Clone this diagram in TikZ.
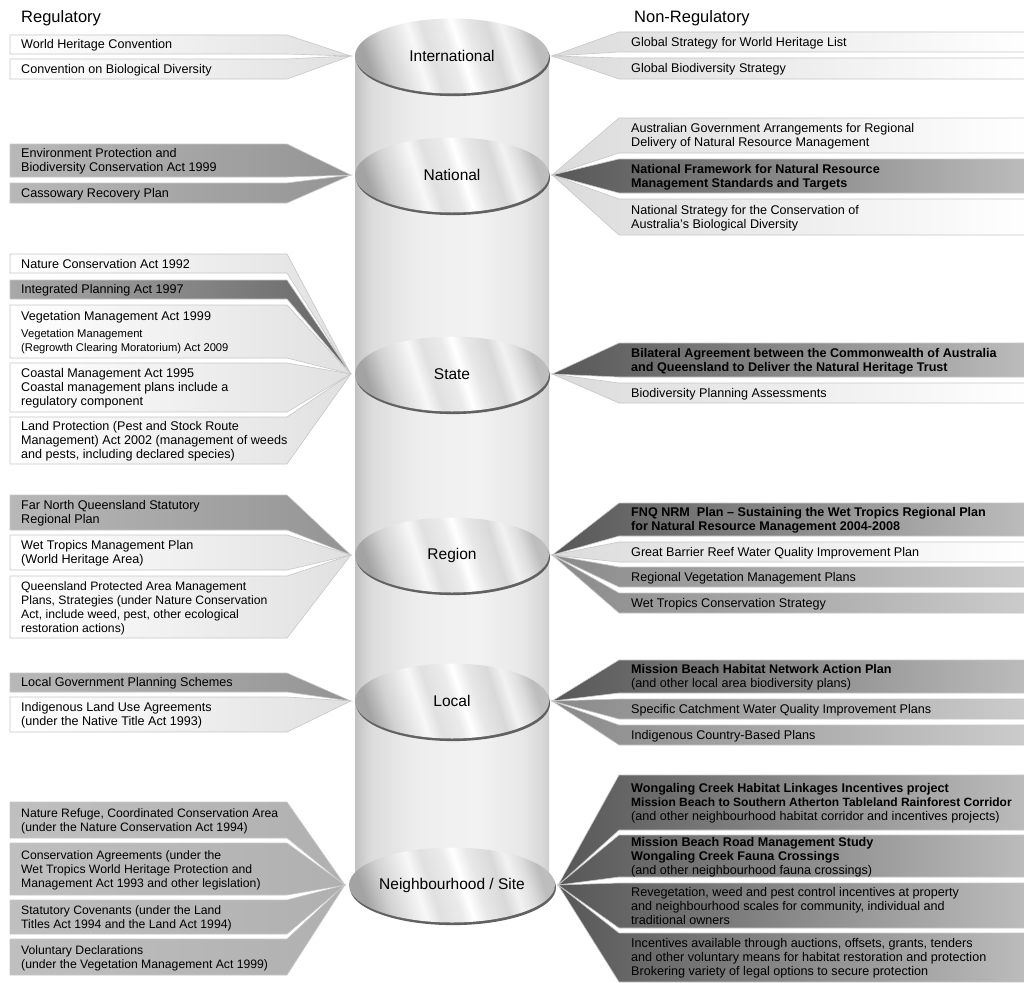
\documentclass[tikz,border=0pt]{standalone}
\usepackage{fontspec}
\setmainfont{Liberation Sans}
\usetikzlibrary{shapes.geometric,shadows}
\newcommand\tf{\fontsize{12.6}{14}\selectfont}
\newcommand\tfs{\fontsize{12.2}{14}\selectfont}
\newcommand\smf{\fontsize{11.2}{14}\selectfont}
\pgfdeclarehorizontalshading{cyl}{100bp}{color(0bp)=(black!24); color(25bp)=(black!24); color(29bp)=(black!14); color(40bp)=(black!7); color(56bp)=(black!5); color(68bp)=(black!9); color(73bp)=(black!15); color(75bp)=(black!19); color(100bp)=(black!19)}
\pgfdeclarehorizontalshading{metal}{100bp}{color(0bp)=(black!36); color(25bp)=(black!36); color(31bp)=(black!18); color(37bp)=(black!8); color(40bp)=(black!3); color(44bp)=(black!12); color(50bp)=(black!8); color(53bp)=(white); color(57bp)=(black!9); color(63bp)=(black!15); color(67bp)=(black!5); color(71bp)=(black!13); color(75bp)=(black!26); color(100bp)=(black!26)}
\tikzset{
  lev/.style={ellipse, minimum width=194pt, minimum height=75pt, inner sep=0pt,
    shade, shading=metal, shading angle=18, font=\fontsize{15.5}{17}\selectfont,
    drop shadow={shadow xshift=1pt, shadow yshift=-2.6pt, fill=black!62, opacity=1}},
  boxbase/.style={draw=black!22, line width=0.6pt},
  lwhite/.style={boxbase, left color=white, right color=black!12},
  lgray/.style={boxbase, left color=black!28, right color=black!42},
  lgraylt/.style={boxbase, left color=black!25, right color=black!31},
  ldark/.style={boxbase, left color=black!34, right color=black!60},
  rwhite/.style={boxbase, left color=black!14, right color=white},
  rgray/.style={boxbase, left color=black!46, right color=black!20},
  rdark/.style={boxbase, left color=black!66, right color=black!26},
  ltxt/.style={anchor=west, align=left, inner sep=0pt, font=\tf, yshift=-0.9pt},
  head/.style={anchor=west, inner sep=0pt, font=\fontsize{16.5}{18}\selectfont}
}
% left box: [font] apex node, top, bottom, style, name, text
\newcommand\LB[7][\tf]{%
  \path[#5] (10,#3) -- (287,#3) -- ([xshift=-4pt]#2.west) -- (287,#4) -- (10,#4) -- cycle;
  \node[ltxt, font=#1] (#6) at (21,{(#3+#4)/2}) {#7};
}
% right box: apex node, top, bottom, style, name, text
\newcommand\RB[6]{%
  \path[#4] (1030,#2) -- (619,#2) -- ([xshift=3pt]#1.east) -- (619,#3) -- (1030,#3) -- cycle;
  \node[ltxt] (#5) at (631,{(#2+#3)/2}) {#6};
}
\begin{document}
\begin{tikzpicture}[x=1pt, y=-1pt]
\useasboundingbox (0,0) rectangle (1024,982);
\fill[white] (0,0) rectangle (1024,982);
% headings
\node[head] (hreg) at (21,18) {Regulatory};
\node[head] (hnreg) at (634,18) {Non-Regulatory};
% cylinder body
\shade[shading=cyl] (355,56) rectangle (549,885);
% levels
\node[lev] (intl) at (452,56) {International};
\node[lev] (natl) at (452,175) {National};
\node[lev] (state) at (452,374) {State};
\node[lev] (region) at (452,555) {Region};
\node[lev] (local) at (452,701) {Local};
\node[lev] (neigh) at (452,885) {Neighbourhood / Site};
% left boxes
\LB{intl}{35}{54}{lwhite}{l1}{World Heritage Convention}
\LB{intl}{59}{79}{lwhite}{l2}{Convention on Biological Diversity}
\LB{natl}{144}{177}{lgray}{l3}{Environment Protection and\\Biodiversity Conservation Act 1999}
\LB{natl}{183}{203}{lgray}{l4}{Cassowary Recovery Plan}
\LB{state}{254}{273}{lwhite}{l5}{Nature Conservation Act 1992}
\LB{state}{280}{299}{ldark}{l6}{Integrated Planning Act 1997}
\LB{state}{305}{358}{lwhite}{l7}{Vegetation Management Act 1999\\[3pt]{\smf Vegetation Management}\\{\smf (Regrowth Clearing Moratorium) Act 2009}}
\LB{state}{363}{412}{lwhite}{l8}{Coastal Management Act 1995\\Coastal management plans include a\\regulatory component}
\LB{state}{417}{464}{lwhite}{l9}{Land Protection (Pest and Stock Route\\Management) Act 2002 (management of weeds\\and pests, including declared species)}
\LB{region}{495}{530}{lgray}{l10}{Far North Queensland Statutory\\Regional Plan}
\LB{region}{535}{570}{lwhite}{l11}{Wet Tropics Management Plan\\(World Heritage Area)}
\LB[\tfs]{region}{576}{638}{lwhite}{l12}{Queensland Protected Area Management\\Plans, Strategies (under Nature Conservation\\Act, include weed, pest, other ecological\\restoration actions)}
\LB{local}{673}{692}{lgray}{l13}{Local Government Planning Schemes}
\LB{local}{697}{732}{lwhite}{l14}{Indigenous Land Use Agreements\\(under the Native Title Act 1993)}
\LB[\tfs]{neigh}{802}{838}{lgraylt}{l15}{Nature Refuge, Coordinated Conservation Area\\(under the Nature Conservation Act 1994)}
\LB[\tfs]{neigh}{843}{895}{lgraylt}{l16}{Conservation Agreements (under the\\Wet Tropics World Heritage Protection and\\Management Act 1993 and other legislation)}
\LB[\tfs]{neigh}{900}{934}{lgraylt}{l17}{Statutory Covenants (under the Land\\Titles Act 1994 and the Land Act 1994)}
\LB[\tfs]{neigh}{939}{975}{lgraylt}{l18}{Voluntary Declarations\\(under the Vegetation Management Act 1999)}
% right boxes
\RB{intl}{32}{52}{rwhite}{r1}{Global Strategy for World Heritage List}
\RB{intl}{58}{79}{rwhite}{r2}{Global Biodiversity Strategy}
\RB{natl}{118}{153}{rwhite}{r3}{Australian Government Arrangements for Regional\\Delivery of Natural Resource Management}
\RB{natl}{159}{193}{rdark}{r4}{\textbf{National Framework for Natural Resource}\\\textbf{Management Standards and Targets}}
\RB{natl}{199}{235}{rwhite}{r5}{National Strategy for the Conservation of\\Australia’s Biological Diversity}
\RB{state}{343}{377}{rdark}{r6}{\textbf{Bilateral Agreement between the Commonwealth of Australia}\\\textbf{and Queensland to Deliver the Natural Heritage Trust}}
\RB{state}{383}{403}{rwhite}{r7}{Biodiversity Planning Assessments}
\RB{region}{503}{536}{rdark}{r8}{\textbf{FNQ NRM\ \ Plan – Sustaining the Wet Tropics Regional Plan}\\\textbf{for Natural Resource Management 2004-2008}}
\RB{region}{542}{562}{rwhite}{r9}{Great Barrier Reef Water Quality Improvement Plan}
\RB{region}{567}{587}{rgray}{r10}{Regional Vegetation Management Plans}
\RB{region}{593}{613}{rgray}{r11}{Wet Tropics Conservation Strategy}
\RB{local}{660}{693}{rdark}{r12}{\textbf{Mission Beach Habitat Network Action Plan}\\(and other local area biodiversity plans)}
\RB{local}{699}{719}{rgray}{r13}{Specific Catchment Water Quality Improvement Plans}
\RB{local}{725}{745}{rgray}{r14}{Indigenous Country-Based Plans}
\RB{neigh}{775}{830}{rdark}{r15}{\textbf{Wongaling Creek Habitat Linkages Incentives project}\\{\fontsize{12}{14}\selectfont\textbf{Mission Beach to Southern Atherton Tableland Rainforest Corridor}}\\(and other neighbourhood habitat corridor and incentives projects)}
\RB{neigh}{835}{877}{rdark}{r16}{\textbf{Mission Beach Road Management Study}\\\textbf{Wongaling Creek Fauna Crossings}\\(and other neighbourhood fauna crossings)}
\RB{neigh}{883}{928}{rdark}{r17}{Revegetation, weed and pest control incentives at property\\and neighbourhood scales for community, individual and\\traditional owners}
\RB{neigh}{933}{982}{rdark}{r18}{Incentives available through auctions, offsets, grants, tenders\\and other voluntary means for habitat restoration and protection\\Brokering variety of legal options to secure protection}
\end{tikzpicture}
\end{document}
